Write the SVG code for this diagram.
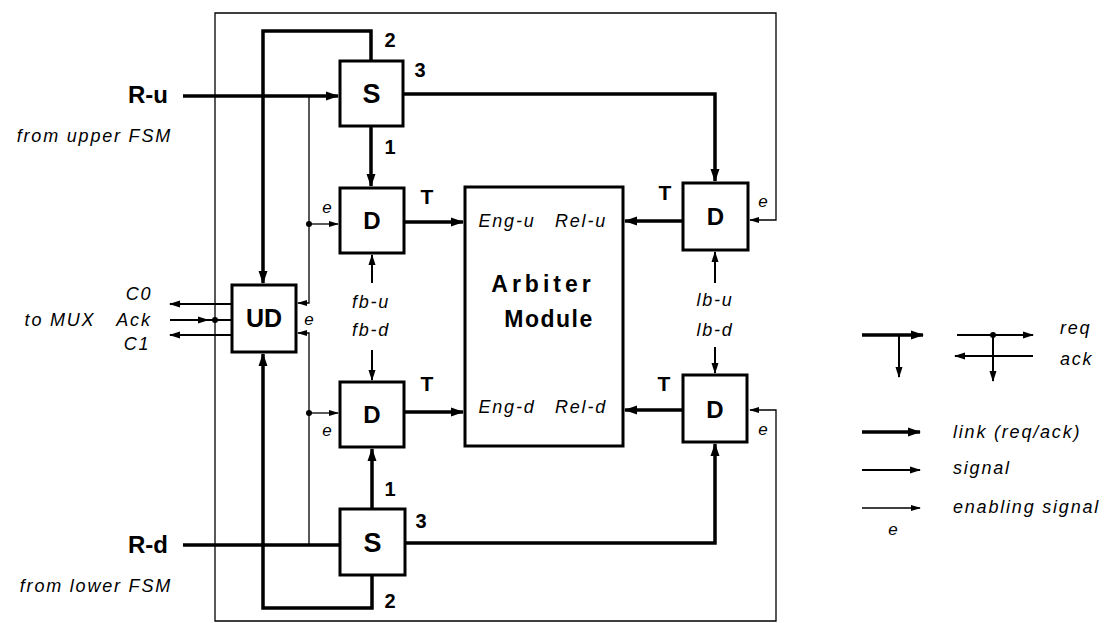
<svg xmlns="http://www.w3.org/2000/svg" width="1117" height="623" viewBox="0 0 1117 623">
<style>
.box{fill:#fff;stroke:#000;stroke-width:3}
.lk{fill:none;stroke:#000;stroke-width:3.5}
.sg{fill:none;stroke:#000;stroke-width:2}
.en{fill:none;stroke:#000;stroke-width:1.3}
.bl{font-family:"Liberation Sans",Arial,sans-serif;font-weight:bold;fill:#000}
.it{font-family:"Liberation Sans",Arial,sans-serif;font-style:italic;fill:#000;font-size:18px;letter-spacing:1.8px}
.ee{font-family:"Liberation Sans",Arial,sans-serif;font-style:italic;fill:#000;font-size:17px}
</style>
<defs>
<marker id="ah" markerUnits="userSpaceOnUse" markerWidth="13" markerHeight="10" refX="12" refY="5" orient="auto"><path d="M0,0.5 L13,5 L0,9.5 z" fill="#000"/></marker>
<marker id="as" markerUnits="userSpaceOnUse" markerWidth="11" markerHeight="8" refX="10" refY="4" orient="auto"><path d="M0,0.5 L11,4 L0,7.5 z" fill="#000"/></marker>
<marker id="ae" markerUnits="userSpaceOnUse" markerWidth="10" markerHeight="7" refX="9" refY="3.5" orient="auto"><path d="M0,0.5 L10,3.5 L0,6.5 z" fill="#000"/></marker>
</defs>
<rect width="1117" height="623" fill="#fff"/>
<g id="connectors">
<path class="en" d="M215,320 V13 H776 V220 H750" marker-end="url(#ae)"/>
<path class="en" d="M215,320 V621 H776 V410 H750" marker-end="url(#ae)"/>
<path class="en" d="M309,96 V303 H298" marker-end="url(#ae)"/>
<path class="en" d="M309,224 H338" marker-end="url(#ae)"/>
<path class="en" d="M309,545 V333 H298" marker-end="url(#ae)"/>
<path class="en" d="M309,413 H338" marker-end="url(#ae)"/>
<circle cx="309" cy="224" r="3"/>
<circle cx="309" cy="413" r="3"/>
<circle cx="215" cy="320" r="3"/>
<path class="lk" d="M183,96 H338" marker-end="url(#ah)"/>
<path class="lk" d="M183,545 H340"/>
<path class="lk" d="M371,61 V31 H263 V283" marker-end="url(#ah)"/>
<path class="lk" d="M371,126 V186" marker-end="url(#ah)"/>
<path class="lk" d="M403,94 H715 V181" marker-end="url(#ah)"/>
<path class="lk" d="M404,222 H463" marker-end="url(#ah)"/>
<path class="lk" d="M683,221 H625" marker-end="url(#ah)"/>
<path class="lk" d="M404,412 H463" marker-end="url(#ah)"/>
<path class="lk" d="M683,410 H625" marker-end="url(#ah)"/>
<path class="lk" d="M372,509 V449" marker-end="url(#ah)"/>
<path class="lk" d="M405,543 H715 V444" marker-end="url(#ah)"/>
<path class="lk" d="M372,575 V608 H263 V354" marker-end="url(#ah)"/>
<path class="sg" d="M372,283 V255" marker-end="url(#as)"/>
<path class="sg" d="M372,350 V380" marker-end="url(#as)"/>
<path class="sg" d="M715,283 V252" marker-end="url(#as)"/>
<path class="sg" d="M715,347 V373" marker-end="url(#as)"/>
<path class="sg" d="M232,304 H170" marker-end="url(#as)"/>
<path class="sg" d="M170,320 H208" marker-end="url(#as)"/>
<path class="sg" d="M206,320 H232"/>
<path class="sg" d="M232,335 H170" marker-end="url(#as)"/>
</g>
<g id="S-up">
<rect class="box" x="340" y="61" width="63" height="65"/>
<text class="bl" x="371.5" y="103" font-size="27" text-anchor="middle">S</text>
<text class="bl" x="390" y="47" font-size="20" text-anchor="middle">2</text>
<text class="bl" x="420" y="77" font-size="20" text-anchor="middle">3</text>
<text class="bl" x="390" y="154" font-size="20" text-anchor="middle">1</text>
</g>
<g id="S-down">
<rect class="box" x="340" y="509" width="65" height="66"/>
<text class="bl" x="372.5" y="552" font-size="27" text-anchor="middle">S</text>
<text class="bl" x="390" y="496" font-size="20" text-anchor="middle">1</text>
<text class="bl" x="421" y="528" font-size="20" text-anchor="middle">3</text>
<text class="bl" x="390" y="608" font-size="20" text-anchor="middle">2</text>
</g>
<g id="D-ul">
<rect class="box" x="340" y="188" width="64" height="65"/>
<text class="bl" x="372" y="229" font-size="24" text-anchor="middle">D</text>
<text class="bl" x="427" y="204" font-size="21" text-anchor="middle">T</text>
<text class="ee" x="327" y="213" text-anchor="middle">e</text>
</g>
<g id="D-ll">
<rect class="box" x="340" y="382" width="64" height="65"/>
<text class="bl" x="372" y="423" font-size="24" text-anchor="middle">D</text>
<text class="bl" x="427" y="391" font-size="21" text-anchor="middle">T</text>
<text class="ee" x="327" y="436" text-anchor="middle">e</text>
</g>
<g id="D-ur">
<rect class="box" x="683" y="183" width="65" height="67"/>
<text class="bl" x="715.5" y="225" font-size="24" text-anchor="middle">D</text>
<text class="bl" x="665" y="200" font-size="21" text-anchor="middle">T</text>
<text class="ee" x="763" y="207" text-anchor="middle">e</text>
</g>
<g id="D-lr">
<rect class="box" x="683" y="375" width="64" height="67"/>
<text class="bl" x="715" y="418" font-size="24" text-anchor="middle">D</text>
<text class="bl" x="664" y="391" font-size="21" text-anchor="middle">T</text>
<text class="ee" x="763" y="435" text-anchor="middle">e</text>
</g>
<g id="arbiter">
<rect class="box" x="465" y="187" width="158" height="259"/>
<text class="it" x="507" y="227" text-anchor="middle">Eng-u</text>
<text class="it" x="581" y="227" text-anchor="middle">Rel-u</text>
<text class="bl" x="543" y="292" font-size="23" text-anchor="middle" letter-spacing="4">Arbiter</text>
<text class="bl" x="549" y="327" font-size="23" text-anchor="middle" letter-spacing="1.5">Module</text>
<text class="it" x="507" y="413" text-anchor="middle">Eng-d</text>
<text class="it" x="581" y="413" text-anchor="middle">Rel-d</text>
</g>
<g id="UD">
<rect class="box" x="232" y="285" width="64" height="67"/>
<text class="bl" x="264" y="327" font-size="25" text-anchor="middle">UD</text>
<text class="ee" x="309" y="325" text-anchor="middle">e</text>
</g>
<g id="labels">
<text class="bl" x="168" y="103" font-size="24" text-anchor="end">R-u</text>
<text class="it" x="172" y="142" text-anchor="end">from upper FSM</text>
<text class="bl" x="168" y="553" font-size="24" text-anchor="end">R-d</text>
<text class="it" x="172" y="592" text-anchor="end">from lower FSM</text>
<text class="it" x="139" y="300" text-anchor="middle">C0</text>
<text class="it" x="134" y="326" text-anchor="middle">Ack</text>
<text class="it" x="137" y="350" text-anchor="middle">C1</text>
<text class="it" x="60" y="326" text-anchor="middle">to MUX</text>
<text class="it" x="371" y="308" text-anchor="middle">fb-u</text>
<text class="it" x="371" y="336" text-anchor="middle">fb-d</text>
<text class="it" x="715" y="306" text-anchor="middle">lb-u</text>
<text class="it" x="715" y="336" text-anchor="middle">lb-d</text>
</g>
<g id="legend">
<path class="lk" d="M862,335 H923" marker-end="url(#ah)"/>
<path class="sg" d="M899,335 V377" marker-end="url(#as)"/>
<path class="sg" d="M957,335 H1033" marker-end="url(#as)"/>
<circle cx="993" cy="335" r="3"/>
<path class="sg" d="M1033,356 H955" marker-end="url(#as)"/>
<path class="sg" d="M993,335 V381" marker-end="url(#as)"/>
<text class="it" x="1060" y="334">req</text>
<text class="it" x="1060" y="365">ack</text>
<path class="lk" d="M862,432 H920" marker-end="url(#ah)"/>
<text class="it" x="953" y="438" letter-spacing="2.2">link (req/ack)</text>
<path class="sg" d="M862,470 H920" marker-end="url(#as)"/>
<text class="it" x="953" y="474">signal</text>
<path class="en" d="M862,508 H920" marker-end="url(#ae)"/>
<text class="it" x="953" y="513">enabling signal</text>
<text class="ee" x="893" y="535" text-anchor="middle">e</text>
</g>
</svg>
